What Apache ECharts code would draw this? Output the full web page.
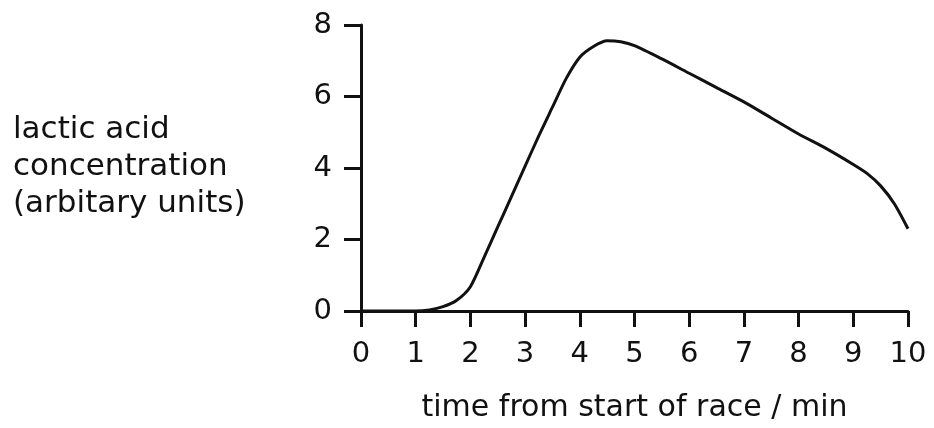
<!DOCTYPE html>
<html>
<head>
<meta charset="utf-8">
<script src="https://cdn.jsdelivr.net/npm/echarts@6/dist/echarts.min.js"></script>
<style>
  html, body { margin: 0; padding: 0; background: #fff; }
  #chart { width: 934px; height: 428px; }
</style>
</head>
<body>
<div id="chart"></div>
<script>
// Time since the start of the race (minutes)
const timeMin = [0, 0.5, 1, 1.25, 1.5, 1.75, 2, 2.25, 2.5, 2.75, 3, 3.25, 3.5, 3.75, 4, 4.25, 4.5, 4.75, 5, 5.5, 6, 6.5, 7, 7.5, 8, 8.5, 9, 9.25, 9.5, 9.75, 10];
// Lactic acid concentration (arbitrary units)
const lacticAcid = [0, 0, 0, 0.03, 0.12, 0.3, 0.68, 1.5, 2.35, 3.2, 4.05, 4.9, 5.7, 6.5, 7.1, 7.4, 7.56, 7.53, 7.42, 7.05, 6.65, 6.25, 5.85, 5.4, 4.95, 4.55, 4.1, 3.85, 3.5, 3.0, 2.3];

const xTicks = ['0', '1', '2', '3', '4', '5', '6', '7', '8', '9', '10'];
const yTicks = ['0', '2', '4', '6', '8'];

const xTitle = 'time from start of race / min';
const yTitleLines = ['lactic acid', 'concentration', '(arbitary units)'];

const ink = '#111';
const font = '"DejaVu Sans", Arial, sans-serif';

const chart = echarts.init(document.getElementById('chart'), null, { renderer: 'canvas' });

chart.setOption({
  backgroundColor: '#fff',
  animation: false,
  grid: { left: 361, right: 26, top: 25, bottom: 113, containLabel: false },
  xAxis: {
    type: 'value',
    min: 0, max: 10, interval: 1,
    name: xTitle,
    nameLocation: 'middle',
    nameGap: 82,
    nameTextStyle: { color: ink, fontFamily: font, fontSize: 30 },
    axisLine: { show: true, lineStyle: { color: ink, width: 3 } },
    axisTick: { show: true, length: 16, lineStyle: { color: ink, width: 3 } },
    axisLabel: {
      color: ink, fontFamily: font, fontSize: 29, margin: 29,
      formatter: (v) => xTicks[Math.round(v)] ?? ''
    },
    splitLine: { show: false }
  },
  yAxis: {
    type: 'value',
    min: 0, max: 8, interval: 2,
    axisLine: { show: true, lineStyle: { color: ink, width: 3 } },
    axisTick: { show: true, length: 17, lineStyle: { color: ink, width: 3 } },
    axisLabel: {
      color: ink, fontFamily: font, fontSize: 29, margin: 29,
      formatter: (v) => yTicks[Math.round(v / 2)] ?? ''
    },
    splitLine: { show: false }
  },
  graphic: [{
    type: 'text',
    left: 13,
    top: 111,
    style: {
      text: yTitleLines.join('\n'),
      fill: ink,
      font: '31px ' + font,
      lineHeight: 37,
      textAlign: 'left'
    }
  }],
  series: [{
    type: 'line',
    data: timeMin.map((t, i) => [t, lacticAcid[i]]),
    smooth: 0.25,
    showSymbol: false,
    lineStyle: { color: ink, width: 3 },
    z: 3
  }]
});
</script>
</body>
</html>
